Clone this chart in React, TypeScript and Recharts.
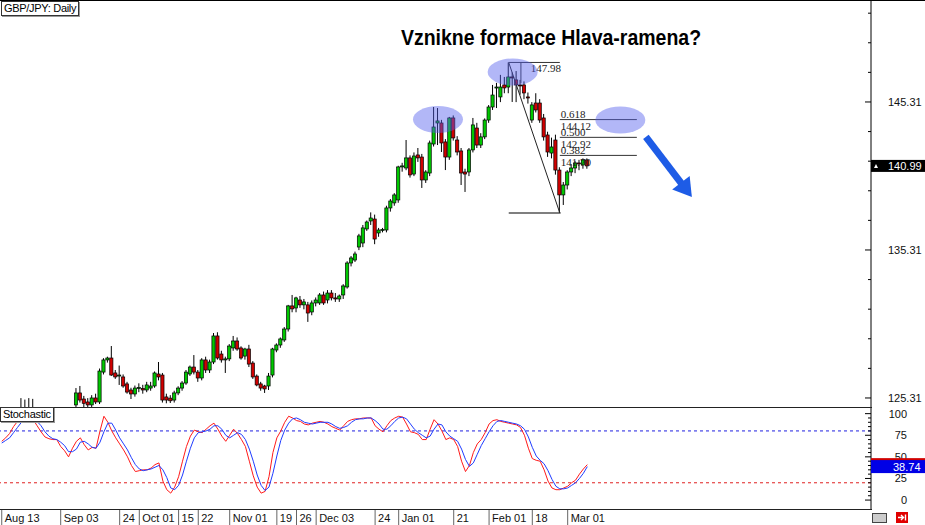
import React from 'react';
import { ComposedChart, Bar, Line, XAxis, YAxis, ReferenceLine, ReferenceDot } from 'recharts';

// ---------- data ----------
const DATE_TICKS = [0, 15, 30, 35, 45, 50, 58, 70, 75, 80, 95, 101, 115, 124, 135, 144];
const DATE_LABELS = ['Aug 13', 'Sep 03', '24', 'Oct 01', '15', '22', 'Nov 01', '19', '26', 'Dec 03', '24', 'Jan 01', '21', 'Feb 01', '18', 'Mar 01'];

const OPEN = [
  123.9, 124.1, 124.2, 124.4, 124.3, 124.5, 124.6, 124.4, 124.3, 124.0,
  123.7, 123.4, 123.3, 123.6, 123.8, 123.9, 124.2, 124.3, 124.1, 124.84,
  125.65, 125.24, 125.04, 124.84, 125.31, 125.04, 127.06, 127.88, 128.01, 127.0,
  126.8, 126.73, 126.26, 125.85, 125.58, 125.98, 125.95, 125.85, 125.98, 126.12,
  126.93, 126.86, 125.38, 125.3, 125.17, 125.65, 125.98, 126.32, 126.93, 127.4,
  127.06, 126.66, 127.88, 127.2, 127.74, 129.5, 128.28, 127.88, 127.95, 128.69,
  129.16, 128.69, 128.14, 128.62, 127.67, 126.79, 126.26, 126.12, 126.12, 126.86,
  128.55, 128.89, 129.23, 129.97, 131.53, 131.39, 131.93, 131.6, 131.6, 131.12,
  131.73, 131.73, 132.27, 131.93, 132.4, 132.07, 132.0, 132.27, 132.81, 134.43,
  134.63, 135.51, 135.78, 136.73, 137.27, 137.4, 136.46, 136.66, 136.66, 138.15,
  138.49, 138.69, 140.92, 140.85, 141.53, 140.44, 141.73, 141.59, 140.04, 140.51,
  142.47, 143.89, 143.89, 142.61, 141.59, 144.23, 142.74, 142.0, 140.58, 140.58,
  142.07, 143.55, 142.4, 142.95, 144.09, 144.97, 146.26, 145.65, 146.46, 146.32,
  147.0, 146.8, 146.46, 146.46, 145.65, 144.09, 145.24, 145.24, 144.23, 143.08,
  141.86, 142.74, 140.71, 139.03, 139.7, 140.58, 140.85, 141.19, 141.05, 141.39,
];
const HIGH = [
  124.3, 124.5, 124.6, 124.7, 124.7, 125.3, 125.2, 125.3, 125.25, 124.4,
  124.0, 123.8, 123.9, 124.1, 124.2, 124.4, 124.6, 124.7, 124.6, 125.98,
  126.12, 125.45, 125.3, 125.5, 125.6, 127.3, 128.0, 128.1, 128.82, 127.2,
  127.5, 126.9, 126.4, 126.0, 126.15, 126.3, 126.2, 126.4, 126.4, 127.1,
  127.74, 127.0, 125.6, 125.5, 125.8, 126.1, 126.45, 127.2, 127.5, 128.21,
  127.2, 128.0, 128.1, 127.9, 129.7, 129.75, 128.5, 128.1, 128.95, 129.5,
  129.4, 128.8, 128.7, 128.9, 127.8, 126.9, 126.4, 126.2, 127.0, 128.7,
  129.0, 129.4, 130.1, 131.6, 132.27, 132.15, 132.2, 132.0, 131.8, 131.9,
  132.1, 132.4, 132.5, 132.6, 132.6, 132.4, 132.3, 133.0, 134.55, 134.9,
  135.2, 136.4, 137.0, 137.3, 137.85, 137.7, 136.8, 136.8, 138.3, 138.75,
  139.15, 141.0, 141.2, 142.74, 141.7, 141.9, 142.2, 141.8, 140.7, 142.7,
  144.97, 144.9, 144.1, 142.8, 144.3, 144.4, 143.0, 142.2, 140.8, 142.2,
  144.23, 143.9, 143.2, 144.2, 145.1, 146.46, 146.6, 147.14, 147.0, 147.98,
  147.3, 147.4, 146.8, 146.7, 145.95, 145.3, 145.9, 145.5, 144.5, 143.3,
  142.9, 143.1, 140.9, 139.9, 140.7, 141.1, 141.3, 141.4, 141.5, 141.5,
];
const LOW = [
  123.6, 123.8, 123.9, 124.0, 124.0, 124.2, 124.2, 124.0, 123.8, 123.5,
  123.2, 122.9, 123.0, 123.3, 123.4, 123.6, 123.9, 123.9, 123.8, 124.6,
  125.0, 124.7, 124.6, 124.6, 124.9, 124.9, 126.9, 127.7, 126.8, 126.6,
  126.19, 126.0, 125.6, 125.24, 125.4, 125.7, 125.6, 125.7, 125.8, 126.0,
  126.5, 125.0, 124.95, 124.97, 125.0, 125.5, 125.8, 126.2, 126.8, 126.9,
  126.4, 126.5, 127.0, 127.0, 127.6, 127.9, 127.7, 127.0, 127.8, 128.5,
  128.5, 127.9, 127.9, 127.4, 126.6, 126.1, 125.8, 125.65, 125.85, 126.7,
  128.4, 128.7, 129.1, 129.8, 131.1, 131.1, 131.4, 131.3, 130.45, 130.9,
  131.5, 131.6, 131.6, 131.7, 131.9, 131.8, 131.8, 132.0, 132.7, 134.2,
  134.5, 135.3, 135.5, 136.6, 137.0, 135.7, 136.2, 136.5, 136.5, 137.9,
  138.3, 138.5, 140.6, 140.7, 140.2, 140.3, 141.26, 139.5, 139.84, 140.3,
  142.3, 142.4, 141.93, 140.71, 141.4, 142.7, 141.7, 139.7, 139.23, 140.3,
  141.9, 142.2, 142.2, 142.8, 143.9, 144.77, 144.9, 145.3, 145.9, 145.9,
  145.31, 145.3, 145.8, 145.5, 145.2, 143.9, 144.6, 143.9, 142.7, 141.6,
  141.5, 140.4, 137.81, 138.35, 139.4, 140.3, 140.5, 140.7, 140.8, 140.8,
];
const CLOSE = [
  124.1, 124.2, 124.4, 124.3, 124.5, 124.6, 124.4, 124.3, 124.0, 123.7,
  123.4, 123.3, 123.6, 123.8, 123.9, 124.2, 124.3, 124.1, 124.5, 125.65,
  125.17, 124.95, 124.84, 125.31, 125.04, 127.13, 127.88, 128.01, 126.86, 126.73,
  126.86, 126.12, 125.71, 125.58, 125.98, 126.02, 125.85, 126.19, 126.12, 127.0,
  126.73, 125.17, 125.17, 125.12, 125.65, 125.98, 126.32, 127.06, 127.4, 127.06,
  126.66, 127.88, 127.2, 127.74, 129.5, 128.01, 127.88, 127.95, 128.82, 129.16,
  128.62, 128.01, 128.62, 127.6, 126.73, 126.19, 125.98, 125.92, 126.79, 128.62,
  128.89, 129.3, 129.97, 131.53, 131.33, 132.07, 131.6, 131.8, 131.05, 131.73,
  131.93, 132.27, 131.73, 132.4, 132.07, 132.0, 132.2, 132.88, 134.43, 134.77,
  135.04, 136.26, 136.8, 137.2, 137.47, 136.05, 136.66, 136.7, 138.15, 138.62,
  139.03, 140.92, 140.99, 141.53, 140.38, 141.66, 141.53, 140.04, 140.58, 142.54,
  143.62, 144.03, 142.54, 141.59, 144.23, 142.88, 141.93, 140.51, 140.44, 142.07,
  143.76, 142.4, 142.95, 144.09, 144.97, 145.78, 146.32, 146.32, 146.26, 147.0,
  146.95, 146.46, 146.4, 145.92, 145.58, 145.11, 144.77, 144.09, 142.95, 141.93,
  142.27, 140.71, 139.03, 139.7, 140.58, 140.85, 141.19, 141.12, 141.39, 140.99,
];
const STOCH_K = [
  68, 72, 77, 85, 91, 94, 95, 94, 93, 86,
  79, 73, 71, 70, 70, 62, 57, 50, 60, 68,
  72, 64, 58, 61, 60, 80, 97, 90, 80, 72,
  65, 58, 50, 40, 33, 34, 35, 35, 37, 41,
  43, 22, 12, 8, 15, 27, 45, 62, 74, 81,
  79, 78, 82, 86, 89, 82, 74, 68, 75, 82,
  77, 70, 62, 45, 28, 15, 8, 10, 27, 55,
  72, 80, 90, 97, 95, 92, 91, 88, 87, 89,
  90, 91, 90, 88, 85, 83, 81, 86, 91, 93,
  94, 94, 95, 95, 95, 86, 82, 79, 86, 92,
  95, 97, 96, 88, 79, 78, 76, 70, 70, 82,
  93, 88, 80, 70, 72, 70, 62, 45, 33, 40,
  55, 65, 70, 78, 88, 92, 93, 91, 90, 89,
  88, 87, 84, 75, 60, 48, 46, 45, 35, 22,
  14, 12, 12, 14, 16, 20, 23, 30, 36, 41,
];
const STOCH_D = [
  66, 69, 72, 78, 84, 90, 93, 94, 94, 91,
  86, 79, 74, 71, 70, 67, 63, 56, 56, 59,
  67, 68, 65, 61, 60, 67, 79, 89, 89, 81,
  72, 65, 58, 49, 41, 36, 34, 35, 36, 38,
  40, 35, 26, 14, 12, 17, 29, 45, 60, 72,
  78, 79, 80, 82, 86, 86, 82, 75, 72, 75,
  78, 76, 70, 59, 45, 29, 17, 11, 15, 31,
  51, 69, 81, 89, 94, 95, 93, 90, 89, 88,
  89, 90, 90, 90, 88, 85, 83, 84, 86, 90,
  93, 94, 94, 95, 95, 92, 88, 82, 82, 86,
  91, 95, 96, 94, 88, 82, 78, 75, 72, 74,
  82, 88, 87, 79, 74, 71, 68, 59, 47, 39,
  43, 53, 63, 71, 79, 86, 91, 92, 91, 90,
  89, 88, 86, 82, 73, 61, 51, 46, 42, 34,
  24, 16, 13, 13, 14, 17, 20, 25, 31, 38.74,
];

const PRICE_TICKS = [125.31, 127.31, 129.31, 131.31, 133.31, 135.31, 137.31, 139.31, 141.31, 143.31, 145.31, 147.31, 149.31, 151.31];
const PRICE_LABELS = [125.31, 135.31, 145.31];
const LAST_PRICE = 140.99;
const STOCH_TICKS = [0, 5, 10, 15, 20, 25, 30, 35, 40, 45, 50, 55, 60, 65, 70, 75, 80, 85, 90, 95, 100];
const STOCH_LEFT_TICKS = [0, 17, 34, 50, 67, 84, 100];
const STOCH_LABELS = [0, 25, 50, 75, 100];
const K_TAG = 41;
const D_TAG = 38.74;

// Fibonacci / annotation values (data coordinates: bar index, price)
const SWING_HIGH = { i: 129, price: 147.98 };
const SWING_LOW = { i: 142, price: 137.81 };
const FIB_END = 161.6;
const FIB_LEVELS = ['0.618', '0.500', '0.382'];
const FIB_PRICES = [144.12, 142.92, 141.7];
const ELLIPSES = [
  { i: 111, price: 144.13 },
  { i: 130, price: 147.34 },
  { i: 157.4, price: 144.09 },
];
const ARROW_FROM = { i: 163.9, price: 142.95 };
const ARROW_TO = { i: 175.6, price: 138.89 };

// ---------- layout ----------
const X_MIN = -0.445;
const X_MAX = 221.18;
const PRICE_MIN = 124.7;
const PRICE_MAX = 152.2;
const STOCH_MIN = -11.5;
const STOCH_MAX = 107.7;
const AXIS_W = 54;
const FONT = '"Liberation Sans", Arial, sans-serif';
const SERIF = '"Liberation Serif", "Times New Roman", serif';
const UP = '#00c800';
const DOWN = '#d00000';
const ARROW_COLOR = '#1e5ce6';

const candles = CLOSE.map((c, i) => ({
  i,
  open: OPEN[i],
  high: HIGH[i],
  low: LOW[i],
  close: c,
}));
const stoch = STOCH_K.map((k, i) => ({ i, k, d: STOCH_D[i] }));

const Candle = (props: any) => {
  const { x, y, width, height, payload } = props;
  if (!payload) return null;
  const { open, high, low, close } = payload;
  if (high === low) return null;
  const ratio = height / (high - low);
  const cx = x + width / 2;
  const yOf = (v: number) => y + (high - v) * ratio;
  const yo = yOf(open);
  const yc = yOf(close);
  const top = Math.min(yo, yc);
  const bot = Math.max(yo, yc);
  const up = close >= open;
  return (
    <g>
      <line x1={cx} x2={cx} y1={y} y2={y + height} stroke="#000" strokeWidth={1} />
      <rect
        x={cx - 1.6}
        y={top}
        width={3.2}
        height={Math.max(bot - top, 1)}
        fill={up ? UP : DOWN}
        stroke="#000"
        strokeWidth={0.7}
      />
    </g>
  );
};

const PriceTick = (props: any) => {
  const { x, y, payload } = props;
  const v = payload.value;
  if (v === LAST_PRICE) {
    return (
      <g>
        <rect x={x} y={y - 6} width={AXIS_W} height={12} fill="#000" />
        <path d={`M${x + 3},${y + 2} L${x + 7},${y + 2} L${x + 5},${y - 2} Z`} fill="#fff" />
        <text x={x + 17} y={y + 4} fill="#fff" fontSize={11} fontFamily={FONT}>
          {v.toFixed(2)}
        </text>
      </g>
    );
  }
  const major = PRICE_LABELS.includes(v);
  return (
    <g>
      <line x1={x - (major ? 6 : 3)} x2={x} y1={y} y2={y} stroke="#000" strokeWidth={1} />
      {major && (
        <text x={x + 17} y={y + 4} fill="#111" fontSize={11} fontFamily={FONT}>
          {v.toFixed(2)}
        </text>
      )}
    </g>
  );
};

const LeftPriceTick = (props: any) => {
  const { x, y, payload } = props;
  const major = PRICE_LABELS.includes(payload.value);
  return <line x1={x} x2={x + (major ? 6 : 3)} y1={y} y2={y} stroke="#333" strokeWidth={1} />;
};

const StochTick = (props: any) => {
  const { x, y, payload } = props;
  const v = payload.value;
  if (v === K_TAG) {
    return <rect x={x} y={y - 6.5} width={AXIS_W} height={13} fill="#d00000" />;
  }
  if (v === D_TAG) {
    return (
      <g>
        <rect x={x} y={y - 6.5} width={AXIS_W} height={13} fill="#0000e6" />
        <text x={x + 22} y={y + 4} fill="#fff" fontSize={11} fontFamily={FONT}>
          {v.toFixed(2)}
        </text>
      </g>
    );
  }
  const major = STOCH_LABELS.includes(v);
  return (
    <g>
      <line x1={x - (major ? 6 : 3)} x2={x} y1={y} y2={y} stroke="#000" strokeWidth={1} />
      {major && (
        <text x={x + 36} y={y + 4} fill="#111" fontSize={11} fontFamily={FONT} textAnchor="end">
          {v}
        </text>
      )}
    </g>
  );
};

const LeftStochTick = (props: any) => {
  const { x, y } = props;
  return <line x1={x} x2={x + 3} y1={y} y2={y} stroke="#333" strokeWidth={1} />;
};

const DateTick = (props: any) => {
  const { x, y, payload } = props;
  const idx = DATE_TICKS.indexOf(payload.value);
  return (
    <g>
      <line x1={x} x2={x} y1={y} y2={y + 15} stroke="#666" strokeWidth={1} />
      <text x={x + 3} y={y + 12} fill="#111" fontSize={11} fontFamily={FONT}>
        {DATE_LABELS[idx]}
      </text>
    </g>
  );
};

const Ellipse = (props: any) => (
  <ellipse cx={props.cx} cy={props.cy} rx={25} ry={13.5} fill="#5560ee" fillOpacity={0.45} />
);

const Arrow = (props: any) => {
  const { x1, y1, x2, y2 } = props;
  const dx = x2 - x1;
  const dy = y2 - y1;
  const len = Math.hypot(dx, dy) || 1;
  const ux = dx / len;
  const uy = dy / len;
  const hl = 18;
  const hw = 11;
  const bx = x2 - ux * hl;
  const by = y2 - uy * hl;
  return (
    <g>
      <line x1={x1} y1={y1} x2={bx + ux * 2} y2={by + uy * 2} stroke={ARROW_COLOR} strokeWidth={7} />
      <polygon
        points={`${x2},${y2} ${bx - uy * hw},${by + ux * hw} ${bx + uy * hw},${by - ux * hw}`}
        fill={ARROW_COLOR}
      />
    </g>
  );
};

const FibLabel = (level: string, price: number) => (props: any) => (
  <g fontFamily={SERIF} fontSize={11} fill="#222">
    <text x={props.cx + 1} y={props.cy - 1.5}>{level}</text>
    <text x={props.cx + 1} y={props.cy + 10.5}>{price.toFixed(2)}</text>
  </g>
);

const HighLabel = (props: any) => (
  <text x={props.cx} y={props.cy + 10} fontFamily={SERIF} fontSize={11} fill="#222">
    {SWING_HIGH.price.toFixed(2)}
  </text>
);

const LabelBox = ({ left, top, text }: { left: number; top: number; text: string }) => (
  <div
    style={{
      position: 'absolute',
      left,
      top,
      padding: '0 2px',
      height: 13,
      lineHeight: '13px',
      fontSize: 11,
      fontFamily: FONT,
      color: '#000',
      background: '#fff',
      border: '1px solid #333',
      boxShadow: '1px 1px 0 #999',
      letterSpacing: -0.3,
      whiteSpace: 'nowrap',
    }}
  >
    {text}
  </div>
);

export default function App() {
  return (
    <div
      style={{
        position: 'absolute',
        left: 0,
        top: 0,
        width: 925,
        height: 525,
        background: '#fff',
        fontFamily: FONT,
        overflow: 'hidden',
      }}
    >
      <div style={{ position: 'absolute', left: 0, top: 0 }}>
        <ComposedChart width={925} height={407} data={candles} margin={{ top: 0, right: 0, bottom: 0, left: 0 }}>
          <XAxis dataKey="i" type="number" domain={[X_MIN, X_MAX]} allowDataOverflow hide />
          <YAxis
            orientation="right"
            width={AXIS_W}
            domain={[PRICE_MIN, PRICE_MAX]}
            allowDataOverflow
            ticks={[...PRICE_TICKS, LAST_PRICE]}
            interval={0}
            tickSize={0}
            tickMargin={0}
            tickLine={false}
            axisLine={{ stroke: '#000' }}
            tick={(p: any) => <PriceTick {...p} />}
          />
          <YAxis
            yAxisId="l"
            orientation="left"
            width={0}
            mirror
            domain={[PRICE_MIN, PRICE_MAX]}
            allowDataOverflow
            ticks={PRICE_TICKS}
            interval={0}
            tickSize={0}
            tickMargin={0}
            tickLine={false}
            axisLine={false}
            tick={(p: any) => <LeftPriceTick {...p} />}
          />
          <Bar
            dataKey={(d: any) => [d.low, d.high]}
            barSize={3}
            isAnimationActive={false}
            shape={(p: any) => <Candle {...p} />}
          />
          {/* Fibonacci tool */}
          <ReferenceLine
            segment={[{ x: SWING_HIGH.i, y: SWING_HIGH.price }, { x: SWING_LOW.i, y: SWING_HIGH.price }]}
            stroke="#333"
            strokeWidth={1}
          />
          <ReferenceLine
            segment={[{ x: SWING_HIGH.i, y: SWING_LOW.price }, { x: SWING_LOW.i + 0.2, y: SWING_LOW.price }]}
            stroke="#555"
            strokeWidth={1.5}
          />
          <ReferenceLine
            segment={[{ x: SWING_HIGH.i, y: SWING_HIGH.price }, { x: SWING_LOW.i, y: SWING_LOW.price }]}
            stroke="#222"
            strokeWidth={1}
          />
          <ReferenceLine
            segment={[{ x: SWING_HIGH.i + 3.1, y: SWING_HIGH.price }, { x: SWING_HIGH.i + 3.1, y: 146.59 }]}
            stroke="#333"
            strokeWidth={1}
          />
          {FIB_PRICES.map((p, k) => (
            <ReferenceLine
              key={'fib' + k}
              segment={[{ x: SWING_LOW.i, y: p }, { x: FIB_END, y: p }]}
              stroke="#333"
              strokeWidth={1}
            />
          ))}
          {FIB_PRICES.map((p, k) => (
            <ReferenceDot key={'fl' + k} x={SWING_LOW.i} y={p} r={1} shape={FibLabel(FIB_LEVELS[k], p)} />
          ))}
          <ReferenceDot x={SWING_HIGH.i + 5.6} y={SWING_HIGH.price} r={1} shape={(p: any) => <HighLabel {...p} />} />
          {ELLIPSES.map((e, k) => (
            <ReferenceDot key={'el' + k} x={e.i} y={e.price} r={25} shape={(p: any) => <Ellipse {...p} />} />
          ))}
          <ReferenceLine
            segment={[{ x: ARROW_FROM.i, y: ARROW_FROM.price }, { x: ARROW_TO.i, y: ARROW_TO.price }]}
            shape={(p: any) => <Arrow {...p} />}
          />
        </ComposedChart>
      </div>

      <div style={{ position: 'absolute', left: 0, top: 407 }}>
        <ComposedChart width={925} height={118} data={stoch} margin={{ top: 0, right: 0, bottom: 0, left: 0 }}>
          <XAxis
            dataKey="i"
            type="number"
            domain={[X_MIN, X_MAX]}
            allowDataOverflow
            height={15}
            ticks={DATE_TICKS}
            interval={0}
            tickSize={0}
            tickMargin={0}
            tickLine={false}
            axisLine={false}
            tick={(p: any) => <DateTick {...p} />}
          />
          <YAxis
            orientation="right"
            width={AXIS_W}
            domain={[STOCH_MIN, STOCH_MAX]}
            allowDataOverflow
            ticks={[...STOCH_TICKS, K_TAG, D_TAG]}
            interval={0}
            tickSize={0}
            tickMargin={0}
            tickLine={false}
            axisLine={{ stroke: '#000' }}
            tick={(p: any) => <StochTick {...p} />}
          />
          <YAxis
            yAxisId="l"
            orientation="left"
            width={0}
            mirror
            domain={[STOCH_MIN, STOCH_MAX]}
            allowDataOverflow
            ticks={STOCH_LEFT_TICKS}
            interval={0}
            tickSize={0}
            tickMargin={0}
            tickLine={false}
            axisLine={false}
            tick={(p: any) => <LeftStochTick {...p} />}
          />
          <ReferenceLine y={80} stroke="#2020e0" strokeDasharray="3 3" strokeWidth={1} />
          <ReferenceLine y={20} stroke="#e02020" strokeDasharray="3 3" strokeWidth={1} />
          <Line dataKey="k" stroke="#ff1a1a" strokeWidth={1} dot={false} isAnimationActive={false} />
          <Line dataKey="d" stroke="#1f3cff" strokeWidth={1} dot={false} isAnimationActive={false} />
        </ComposedChart>
      </div>

      {/* frame lines */}
      <div style={{ position: 'absolute', left: 0, top: 0, width: 925, height: 1, background: '#000' }} />
      <div style={{ position: 'absolute', left: 0, top: 407, width: 872, height: 1, background: '#222' }} />
      <div style={{ position: 'absolute', left: 0, top: 509, width: 872, height: 1, background: '#222' }} />

      {/* labels */}
      <LabelBox left={1} top={1} text="GBP/JPY: Daily" />
      <LabelBox left={0} top={407} text="Stochastic" />
      <div
        style={{
          position: 'absolute',
          left: 391,
          top: 27,
          width: 320,
          height: 20,
          textAlign: 'center',
          fontSize: 19.5,
          lineHeight: '20px',
          fontWeight: 'bold',
          fontFamily: FONT,
          color: '#000',
          whiteSpace: 'nowrap',
          transform: 'scaleY(1.12)',
        }}
      >
        Vznikne formace Hlava-ramena?
      </div>

      {/* corner icons */}
      <div
        style={{
          position: 'absolute',
          left: 872,
          top: 513,
          width: 13,
          height: 8,
          border: '1px solid #444',
          background: '#ccc',
        }}
      />
      <svg style={{ position: 'absolute', left: 896, top: 512 }} width={12} height={11}>
        <rect x={0} y={0} width={12} height={11} fill="#e00000" />
        <path d="M2,5.5 L7,5.5 M5,3 L7.5,5.5 L5,8 M9.5,2.5 L9.5,8.5" stroke="#fff" strokeWidth={1.4} fill="none" />
      </svg>
    </div>
  );
}
